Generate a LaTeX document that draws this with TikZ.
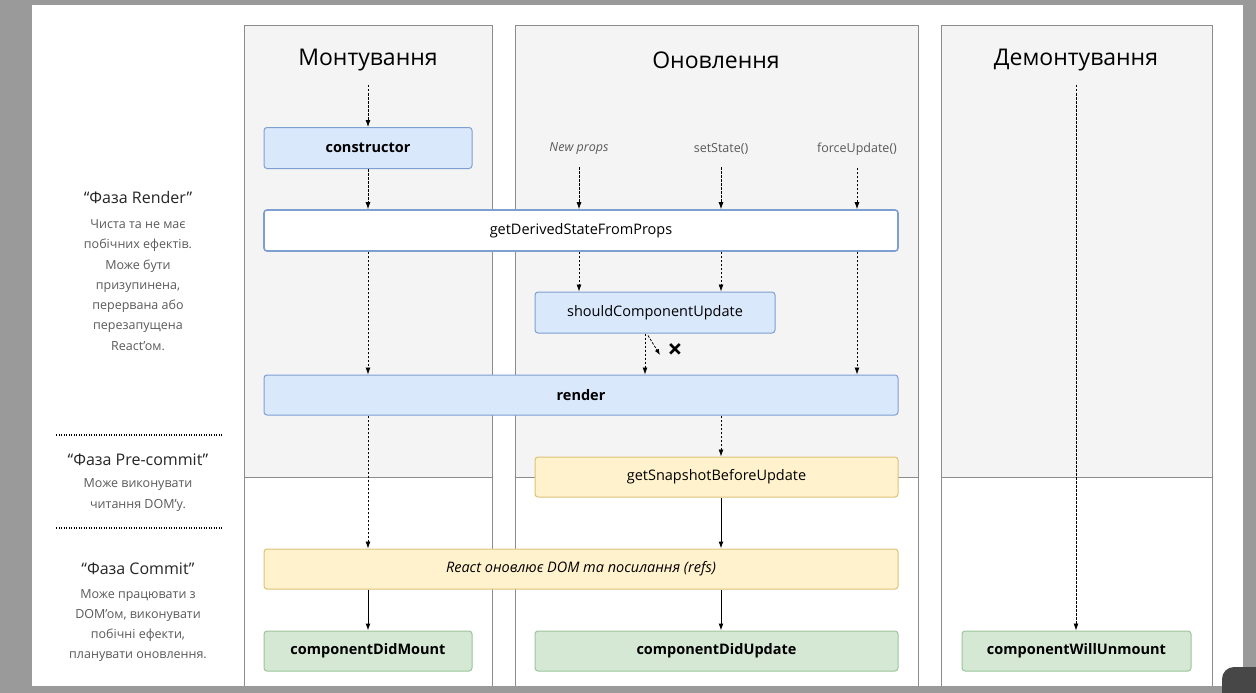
\documentclass[tikz,border=0pt]{standalone}
\usepackage{fontspec}
\setmainfont{Open Sans}
\usetikzlibrary{arrows.meta, positioning, calc}

\definecolor{framegray}{HTML}{9A9A9A}
\definecolor{panelfill}{HTML}{F4F4F4}
\definecolor{panelline}{HTML}{8C8C8C}
\definecolor{bluefill}{HTML}{DAE8FC}
\definecolor{blueline}{HTML}{7E9FD2}
\definecolor{yellowfill}{HTML}{FFF2CC}
\definecolor{yellowline}{HTML}{DCC277}
\definecolor{greenfill}{HTML}{D5E8D4}
\definecolor{greenline}{HTML}{9CC59A}
\definecolor{desctext}{HTML}{5A5A5A}

\begin{document}
\begin{tikzpicture}
[
  x=1pt, y=-1pt,
  panel/.style = {draw=panelline, line width=0.8pt},
  title/.style = {font=\fontsize{23}{27}\selectfont},
  box/.style = {draw, rounded corners=3pt, minimum height=41pt, inner sep=0pt, line width=1pt, font=\fontsize{14.5}{17}\selectfont},
  bluebox/.style = {box, fill=bluefill, draw=blueline},
  whitebox/.style = {box, fill=white, draw=blueline, line width=1.6pt},
  yellowbox/.style = {box, fill=yellowfill, draw=yellowline},
  greenbox/.style = {box, fill=greenfill, draw=greenline},
  trigger/.style = {font=\fontsize{12.5}{15}\selectfont, text=desctext},
  phase/.style = {font=\fontsize{16}{19}\selectfont, text=black!85},
  phasedesc/.style = {align=center, text=desctext, font=\fontsize{12.5}{20.3}\selectfont},
  dflow/.style = {-{Latex[length=7pt,width=5pt]}, dash pattern=on 2.5pt off 1.5pt, line width=0.8pt},
  sflow/.style = {-{Latex[length=7pt,width=5pt]}, line width=1pt},
  sepline/.style = {line width=1.6pt, dash pattern=on 1.2pt off 1.3pt}
]
\useasboundingbox (0,0) rectangle (1256,693);

% screen frame
\fill[framegray] (0,0) rectangle (1256,693);
\fill[white] (32,5) rectangle (1243,686);
\begin{scope}
  \clip (0,0) rectangle (1256,693);
  \fill[black!72, rounded corners=12pt] (1222,667) rectangle (1290,720);
\end{scope}

% columns
\fill[panelfill] (244,25) rectangle (492,477);
\fill[panelfill] (515,25) rectangle (918,477);
\fill[panelfill] (941,25) rectangle (1212,477);
\draw[panel] (244,686) |- (492,25) -- (492,686);
\draw[panel] (515,686) |- (918,25) -- (918,686);
\draw[panel] (941,686) |- (1212,25) -- (1212,686);
\draw[panel] (244,477) -- (492,477);
\draw[panel] (515,477) -- (918,477);
\draw[panel] (941,477) -- (1212,477);

\node[title] (mounting) at (368,60) {Монтування};
\node[title] (updating) at (716,60) {Оновлення};
\node[title] (unmounting) at (1076,60) {Демонтування};

% left side: phases
\node[phase] (renderphase) at (138,197) {“Фаза Render”};
\node[phasedesc] (renderdesc) at (138,285) {Чиста та не має\\побічних ефектів.\\Може бути\\призупинена,\\перервана або\\перезапущена\\React'ом.};
\coordinate (sepa) at (56,435);
\coordinate (sepb) at (56,528);
\draw[sepline] (sepa) -- ++(166,0);
\node[phase] (precommitphase) at (138,460) {“Фаза Pre-commit”};
\node[phasedesc] (precommitdesc) at (138,495) {Може виконувати\\читання DOM'у.};
\draw[sepline] (sepb) -- ++(166,0);
\node[phase] (commitphase) at (138,569) {“Фаза Commit”};
\node[phasedesc] (commitdesc) at (138,625.5) {Може працювати з\\DOM'ом, виконувати\\побічні ефекти,\\планувати оновлення.};

% triggers
\node[trigger, font=\fontsize{12.5}{15}\selectfont\itshape] (newprops) at (579,149) {New props};
\node[trigger] (setstate) at (721,149) {setState()};
\node[trigger] (forceupdate) at (857,149) {forceUpdate()};

% lifecycle methods
\node[bluebox, minimum width=208pt, font=\fontsize{14.5}{17}\selectfont\bfseries] (constructor) at (368,148) {constructor};
\node[whitebox, minimum width=634pt] (gdsfp) at (581,230.5) {getDerivedStateFromProps};
\node[bluebox, minimum width=240pt] (scu) at (655,312.5) {shouldComponentUpdate};
\node[bluebox, minimum width=634pt, minimum height=40pt, font=\fontsize{14.5}{17}\selectfont\bfseries] (render) at (581,395) {render};
\node[yellowbox, minimum width=363pt, minimum height=40pt] (snapshot) at (716.5,477) {getSnapshotBeforeUpdate};
\node[yellowbox, minimum width=634pt, minimum height=40pt, font=\fontsize{14.5}{17}\selectfont\itshape] (domupdate) at (581,569) {React оновлює DOM та посилання (refs)};
\node[greenbox, minimum width=208pt, minimum height=40pt, font=\fontsize{14.5}{17}\selectfont\bfseries] (didmount) at (368,651) {componentDidMount};
\node[greenbox, minimum width=363pt, minimum height=40pt, font=\fontsize{14.5}{17}\selectfont\bfseries] (didupdate) at (716.5,651) {componentDidUpdate};
\node[greenbox, minimum width=229pt, minimum height=40pt, font=\fontsize{14.5}{17}\selectfont\bfseries] (willunmount) at (1076.5,651) {componentWillUnmount};

% mounting flow
\coordinate (mstart) at (368,85);
\draw[dflow] (mstart) -- (constructor);
\draw[dflow] (constructor) -- (constructor.south |- gdsfp.north);
\draw[dflow] (constructor.south |- gdsfp.south) -- (constructor.south |- render.north);
\draw[dflow] (constructor.south |- render.south) -- (constructor.south |- domupdate.north);
\draw[sflow] (constructor.south |- domupdate.south) -- (didmount);

% updating flow
\draw[dflow] ($(newprops.south)+(0,9)$) -- (newprops |- gdsfp.north);
\draw[dflow] ($(setstate.south)+(0,9)$) -- (setstate |- gdsfp.north);
\draw[dflow] ($(forceupdate.south)+(0,9)$) -- (forceupdate |- gdsfp.north);
\draw[dflow] (newprops |- gdsfp.south) -- (newprops |- scu.north);
\draw[dflow] (setstate |- gdsfp.south) -- (setstate |- scu.north);
\draw[dflow] (forceupdate |- gdsfp.south) -- (forceupdate |- render.north);
\coordinate (scuout) at (645,0);
\draw[dflow] (scuout |- scu.south) -- (scuout |- render.north);
\coordinate (noupdate) at (660,355);
\draw[dflow, -{Latex[length=6pt,width=4.5pt]}] ($(scuout |- scu.south)+(3,2)$) -- (noupdate);
\node[font=\fontsize{26}{26}\selectfont\bfseries] (stop) at (675,351) {×};
\draw[dflow] (setstate |- render.south) -- (setstate |- snapshot.north);
\draw[sflow] (setstate |- snapshot.south) -- (setstate |- domupdate.north);
\draw[sflow] (setstate |- domupdate.south) -- (setstate |- didupdate.north);

% unmounting flow
\coordinate (ustart) at (1076,85);
\draw[dflow] (ustart) -- (ustart |- willunmount.north);
\end{tikzpicture}
\end{document}
